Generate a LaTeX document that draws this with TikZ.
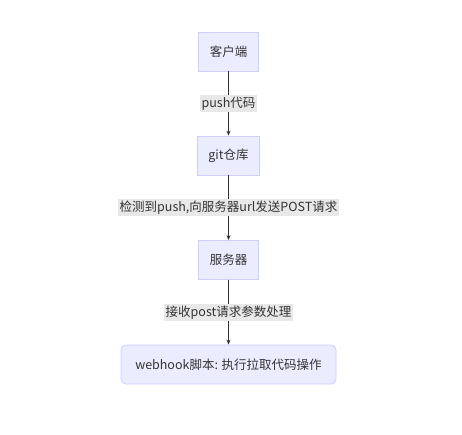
\documentclass[tikz,border=0pt]{standalone}
\usepackage{fontspec}
\setmainfont{Noto Sans CJK SC}
\usepackage{tikz}
\usetikzlibrary{arrows.meta}
\definecolor{boxfill}{HTML}{ECECFF}
\definecolor{boxline}{HTML}{CCCCFF}
\definecolor{lblfill}{HTML}{E8E8E8}
\definecolor{ink}{HTML}{333333}

\begin{document}
\begin{tikzpicture}[x=1pt,y=-1pt,font=\fontsize{12.5}{14}\selectfont,text=ink,
  stepbox/.style={draw=boxline,fill=boxfill,line width=0.8pt,minimum height=39pt,inner xsep=11pt},
  lbl/.style={fill=lblfill,inner sep=1.5pt,minimum height=17pt},
  flow/.style={draw=ink,line width=0.7pt,-{Stealth[length=5pt,width=4pt]}}]
\useasboundingbox (0,0) rectangle (462,435);
\node [stepbox] (client) at (228.5,51.5) {客户端};
\node [stepbox] (repo) at (228.5,155.5) {git仓库};
\node [stepbox] (server) at (228.5,260) {服务器};
\node [stepbox,rounded corners=5pt,minimum width=215pt] (hook) at (228.5,364.5) {webhook脚本: 执行拉取代码操作};
\draw [flow] (client) -- node [lbl] (l1) {push代码} (repo);
\draw [flow] (repo) -- node [lbl] (l2) {检测到push,向服务器url发送POST请求} (server);
\draw [flow] (server) -- node [lbl] (l3) {接收post请求参数处理} (hook);
\end{tikzpicture}
\end{document}
